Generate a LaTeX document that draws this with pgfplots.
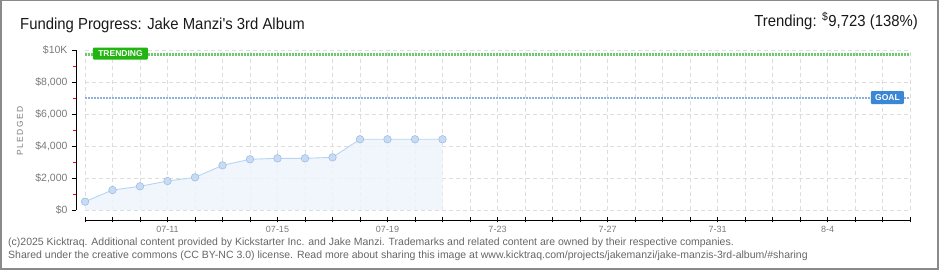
\documentclass[border=0pt]{standalone}
\usepackage{pgfplots}
\pgfplotsset{compat=1.18}
\usepackage{fontspec}
\setmainfont{Liberation Sans}
\newfontfamily\condfont{Liberation Sans}[FakeStretch=0.93]
\definecolor{gridc}{HTML}{DDDDDD}
\definecolor{labc}{HTML}{7A7A7A}
\definecolor{footc}{HTML}{666666}
\definecolor{trendline}{HTML}{6CCB6C}
\definecolor{trendbox}{HTML}{22B511}
\definecolor{goalline}{HTML}{8EB0DC}
\definecolor{goalbox}{HTML}{3A87D6}
\definecolor{areafill}{HTML}{EDF4FC}
\definecolor{dataline}{HTML}{B8D4F2}
\definecolor{markfill}{HTML}{C6DCF6}
\definecolor{markdraw}{HTML}{9DB8DA}
\definecolor{framec}{HTML}{8A8A8A}
\pgfplotstableread{
x y
0 520
1 1250
2 1480
3 1810
4 2040
5 2790
6 3170
7 3230
8 3230
9 3290
10 4420
11 4420
12 4420
13 4420
}\pledged
\begin{document}
\begin{tikzpicture}
\path (0,0) rectangle (940pt,270pt);
\draw[framec, line width=1.5pt] (0.75pt,0.75pt) rectangle (938pt,269.25pt);
% main plot area
\begin{axis}[at={(85pt,60pt)}, anchor=south west, scale only axis,
  width=825pt, height=160pt, xmin=0, xmax=30, ymin=0, ymax=10000,
  axis line style={draw=none}, xtick={0,...,30}, ytick={0,2000,...,10000},
  xticklabels={}, yticklabels={}, major tick length=0pt, grid=major,
  scaled y ticks=false,
  major grid style={draw=gridc, dash pattern=on 4pt off 3pt, line width=0.8pt},
  clip=false]
\addplot[fill=areafill, draw=none, fill opacity=0.85] table[x=x,y=y]{\pledged} \closedcycle;
\addplot[trendline, line width=2.6pt, dash pattern=on 2pt off 1pt] coordinates {(0,9723) (30,9723)};
\addplot[goalline, line width=2.6pt, dash pattern=on 2pt off 1pt] coordinates {(0,7000) (30,7000)};
\addplot[dataline, line width=0.9pt, mark=*, mark size=3.8pt,
  mark options={fill=markfill, draw=markdraw, line width=0.5pt}] table[x=x,y=y]{\pledged};
\node[fill=trendbox, text=white, rounded corners=1pt, font=\bfseries\fontsize{8.5}{9}\selectfont,
  minimum width=55pt, minimum height=12pt, inner sep=0pt] at (axis cs:1.29,9780) {TRENDING};
\node[fill=goalbox, text=white, rounded corners=1pt, font=\bfseries\fontsize{8.5}{9}\selectfont,
  minimum width=33pt, minimum height=13pt, inner sep=0pt] at (axis cs:29.18,7030) {GOAL};
\end{axis}
% y axis
\begin{axis}[at={(76pt,60pt)}, anchor=south west, scale only axis,
  width=10pt, height=160pt, xmin=0, xmax=1, ymin=0, ymax=10000,
  axis y line=left, axis x line=none, axis line style={-, black, line width=0.9pt},
  scaled y ticks=false,
  ytick={0,2000,...,10000}, yticklabels={{\$0},{\$2,000},{\$4,000},{\$6,000},{\$8,000},{\$10K}},
  minor ytick={1000,3000,...,9000},
  tick align=outside, major tick length=4pt, minor tick length=2.5pt,
  major tick style={black, line width=0.9pt}, minor tick style={red, line width=0.9pt},
  yticklabel style={font=\fontsize{10.5}{12}\selectfont, text=labc, xshift=-1pt},
  /pgf/number format/assume math mode=true]
\addplot[draw=none] coordinates {(0,0)};
\end{axis}
% x axis
\begin{axis}[at={(85pt,50pt)}, anchor=south west, scale only axis,
  width=825pt, height=1pt, xmin=0, xmax=30, ymin=0, ymax=1,
  axis x line=bottom, axis y line=none, axis line style={-, black, line width=0.9pt},
  xtick={0,...,30}, xticklabels={},
  extra x ticks={3,7,11,15,19,23,27},
  extra x tick labels={07-11,07-15,07-19,7-23,7-27,7-31,8-4},
  tick align=center, major tick length=5pt,
  major tick style={black, line width=0.9pt},
  xticklabel style={font=\fontsize{9}{10}\selectfont, text=labc, yshift=0pt}]
\addplot[draw=none] coordinates {(0,0)};
\end{axis}
% texts
\node[anchor=base west, inner sep=0pt, font=\condfont\fontsize{16}{18}\selectfont, text=black!90]
  at (20pt,240pt) {Funding Progress: Jake Manzi's 3rd Album};
\node[anchor=base east, inner sep=0pt, font=\condfont\fontsize{16}{18}\selectfont, text=black!90]
  at (918pt,243pt) {Trending: \textsuperscript{\$}9,723 (138\%)};
\node[rotate=90, inner sep=0pt, font=\fontsize{8.5}{9}\selectfont, text=labc]
  at (20pt,139pt) {P\,L\,E\,D\,G\,E\,D};
\node[anchor=base west, inner sep=0pt, font=\fontsize{10.5}{12}\selectfont, text=footc]
  at (8pt,24pt) {(c)2025 Kicktraq. Additional content provided by Kickstarter Inc. and Jake Manzi. Trademarks and related content are owned by their respective companies.};
\node[anchor=base west, inner sep=0pt, font=\fontsize{10.5}{12}\selectfont, text=footc]
  at (8pt,11pt) {Shared under the creative commons (CC BY-NC 3.0) license. Read more about sharing this image at www.kicktraq.com/projects/jakemanzi/jake-manzis-3rd-album/\#sharing};
\end{tikzpicture}
\end{document}
